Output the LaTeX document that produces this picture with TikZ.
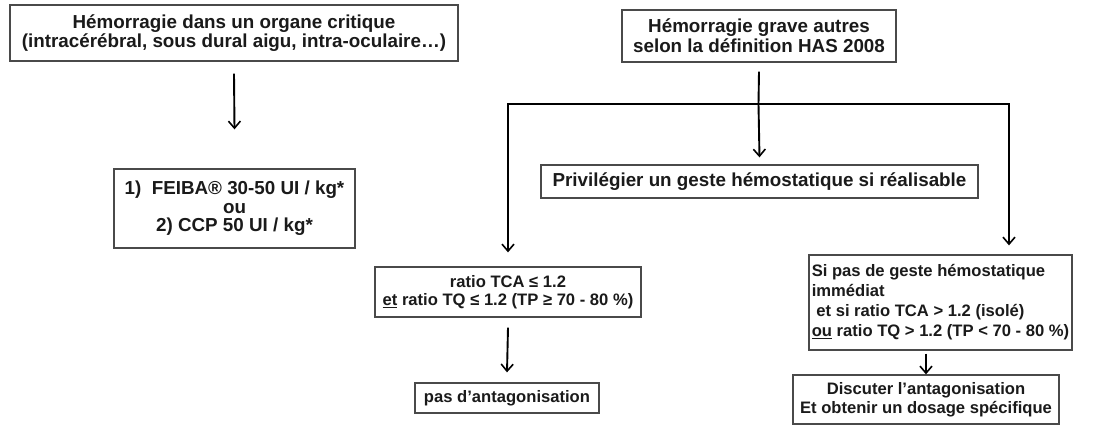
\documentclass[tikz,border=0pt]{standalone}
\usepackage{fontspec}
\setmainfont{Liberation Sans}
\usetikzlibrary{arrows.meta,calc}
\definecolor{txt}{HTML}{1A1A1A}
\definecolor{frame}{HTML}{4A4A4A}
\begin{document}
\begin{tikzpicture}[x=1pt,y=-1pt,
  box/.style={draw=frame, line width=1.3pt, fill=white, inner sep=0pt, align=center, text=txt},
  big/.style={font=\fontsize{18.8}{19.8}\selectfont\bfseries},
  small/.style={font=\fontsize{16.6}{18.5}\selectfont\bfseries},
  ln/.style={line width=1.9pt, draw=black, line join=miter},
  arr/.style={ln, -{Straight Barb[length=7pt,width=12pt,line width=1.6pt]}}]
\useasboundingbox[fill=white] (0,0) rectangle (1093,425);

\node[box, big, minimum width=448pt, minimum height=56pt] (A) at (234,33)
  {Hémorragie dans un organe critique\\(intracérébral, sous dural aigu, intra-oculaire…)};
\node[box, font=\fontsize{18.8}{18.5}\selectfont\bfseries, minimum width=241pt, minimum height=79pt] (B) at (234.5,208.5)
  {1)\ \ FEIBA® 30-50 UI / kg*\\ou\\2) CCP 50 UI / kg*};
\node[box, big, minimum width=274pt, minimum height=52pt] (C) at (759,36)
  {Hémorragie grave autres\\selon la définition HAS 2008};
\node[box, big, minimum width=437pt, minimum height=33pt] (D) at (759.5,181.5)
  {Privilégier un geste hémostatique si réalisable};
\node[box, small, minimum width=266pt, minimum height=50pt] (E) at (508,292)
  {ratio TCA ≤ 1.2\\\underline{et} ratio TQ ≤ 1.2 (TP ≥ 70 - 80 \%)};
\node[box, small, minimum width=184pt, minimum height=30pt] (G) at (507,398)
  {pas d’antagonisation};
\node[box, font=\fontsize{16.6}{20}\selectfont\bfseries, align=left, minimum width=263pt, minimum height=95pt] (F) at (940.5,302.5)
  {Si pas de geste hémostatique\\immédiat\\\ et si ratio TCA > 1.2 (isolé)\\\underline{ou} ratio TQ > 1.2 (TP < 70 - 80 \%)};
\node[box, small, minimum width=266pt, minimum height=49pt] (H) at (926,399.5)
  {Discuter l’antagonisation\\Et obtenir un dosage spécifique};

\coordinate (J) at (758.5,104);
\coordinate (L) at (508,104);
\coordinate (R) at (1009,104);

\draw[arr] ([yshift=-12pt]A.south) -- ([yshift=39pt]B.north);
\draw[ln] ([yshift=-9pt]C.south) -- (J);
\draw[arr] (J) -- ([yshift=7pt]D.north);
\draw[arr] (J) -- (L) -- ([yshift=14pt]E.north);
\draw[arr] (J) -- (R) -- ($(R |- F.north)+(0pt,9pt)$);
\draw[arr] ([yshift=-10pt]E.south) -- ([yshift=10pt]G.north);
\draw[arr] ($(F.south -| H.north)+(0pt,-3pt)$) -- (H.north);
\end{tikzpicture}
\end{document}
